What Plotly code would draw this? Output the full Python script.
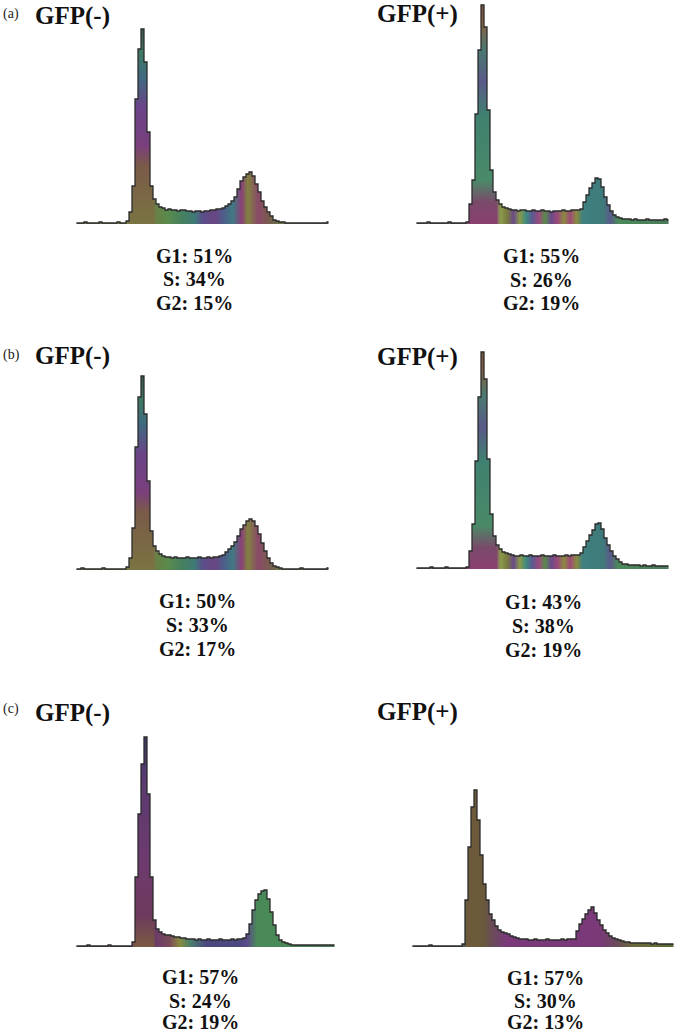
import plotly.graph_objects as go

W, H = 675, 1033

# ---------------- data ----------------
row_tags = ["(a)", "", "(b)", "", "(c)", ""]
titles = ["GFP(-)", "GFP(+)", "GFP(-)", "GFP(+)", "GFP(-)", "GFP(+)"]
g1_pct = [51, 55, 50, 43, 57, 57]
s_pct = [34, 26, 33, 38, 24, 30]
g2_pct = [15, 19, 17, 19, 19, 13]

a_neg = [1, 1, 1, 2, 1, 1, 1, 1, 2, 1, 1, 1, 1, 1, 2, 1, 1,
         3, 12, 38, 125, 175, 195, 162, 92, 38, 25, 20, 17, 16,
         14, 15, 14, 14, 13, 14, 14,
         13, 13, 12, 13, 13, 12, 13, 13, 14,
         14, 15,
         15, 16, 18, 20, 23, 27, 35, 43, 47, 50, 52, 48, 40, 32, 23, 17, 12, 8, 4, 3, 2,
         2, 1, 1, 1, 1, 1, 1, 1, 1, 1, 1, 1, 1, 1, 1, 2]
a_pos = [1, 1, 1, 1, 2, 1, 1, 1, 1, 1, 1, 2, 1, 1, 1, 1, 1,
         2, 20, 44, 110, 174, 219, 197, 114, 54, 32, 24, 20, 17, 16, 15,
         14, 14, 13, 14, 14, 13, 13, 14, 13, 13, 14, 13, 13, 12, 13, 13, 13, 14, 13, 13, 14, 14,
         14, 15, 22, 29, 36, 41, 46, 45, 37, 27, 19, 13, 9, 7, 6,
         5, 5, 5, 4, 5, 4, 4, 4, 5, 4, 4, 4, 4, 4, 5, 4]
b_neg = [1, 1, 2, 1, 1, 1, 1, 1, 1, 2, 1, 1, 1, 1, 1, 1, 1,
         3, 12, 42, 123, 173, 194, 156, 89, 39, 24, 19, 16, 14,
         13, 13, 12, 13, 12, 12, 12, 13, 12, 12, 12, 13, 12, 12, 13, 12, 13, 13,
         14, 15, 18, 21, 24, 28, 34, 41, 45, 49, 51, 49, 44, 36, 27, 19, 12, 7, 4, 3, 2,
         1, 1, 1, 1, 1, 1, 2, 1, 1, 1, 1, 1, 1, 1, 1, 2]
b_pos = [1, 1, 1, 1, 1, 2, 1, 1, 1, 1, 2, 1, 1, 1, 1, 1, 1,
         2, 18, 45, 108, 172, 217, 190, 110, 55, 33, 24, 20, 17, 16, 15,
         14, 13, 13, 14, 13, 13, 14, 13, 13, 13, 14, 13, 13, 13, 14, 13, 13, 13, 14, 13, 14, 14,
         14, 16, 22, 28, 34, 39, 45, 46, 40, 31, 24, 18, 13, 10, 7,
         5, 5, 4, 4, 4, 4, 3, 4, 3, 3, 4, 3, 3, 3, 3, 3]
c_neg = [1, 1, 1, 1, 2, 1, 1, 1, 1, 1, 1, 2, 1, 1, 1, 1, 1, 1, 1,
         5, 70, 133, 183, 210, 153, 70, 27, 18, 15, 13, 12, 12, 11, 10, 10, 9, 9,
         8, 8, 8, 7, 8, 7, 7, 8, 7, 7, 7, 8, 7, 7, 7, 8, 7, 8, 8,
         9, 13, 23, 37, 47, 53, 56, 57, 48, 35, 22, 12, 7, 5, 4, 3,
         2, 2, 2, 2, 2, 2, 2, 2, 2, 2, 2, 2, 2, 2, 2]
c_pos = [1, 1, 1, 1, 1, 1, 2, 1, 1, 1, 1, 1, 1, 1, 1, 1, 1,
         3, 47, 100, 140, 157, 127, 92, 63, 47, 33, 27, 21, 17, 15, 14, 13, 11, 10, 9,
         8, 8, 8, 7, 7, 8, 7, 7, 7, 8, 7, 7, 7, 7, 8, 7, 8, 8,
         8, 16, 23, 28, 33, 37, 40, 34, 27, 22, 17, 14, 11, 9, 8, 7, 6,
         5, 5, 4, 4, 4, 4, 4, 4, 4, 3, 4, 3, 3, 3, 3, 3, 3]

histograms = [a_neg, a_pos, b_neg, b_pos, c_neg, c_pos]

# ---------------- layout geometry (pixels) ----------------
geom = [
    dict(x0=75, x1=330, base=224, tx=33, ty=16, tagy=14, sx=195, sy=[256, 279, 303]),
    dict(x0=415, x1=670, base=224, tx=375, ty=14, tagy=0, sx=541, sy=[256, 280, 303]),
    dict(x0=75, x1=330, base=570, tx=33, ty=356, tagy=355, sx=197, sy=[601, 625, 649]),
    dict(x0=415, x1=670, base=569, tx=375, ty=357, tagy=0, sx=543, sy=[602, 626, 650]),
    dict(x0=75, x1=336, base=947, tx=33, ty=713, tagy=709, sx=200, sy=[977, 1001, 1022]),
    dict(x0=411, x1=675, base=947, tx=375, ty=712, tagy=0, sx=545, sy=[978, 1001, 1022]),
]
YSPAN = 222

# ---------------- colour styles ----------------
neg_ab_h = [[0, '#66704c'], [0.2, '#728244'], [0.24, '#6f8a48'], [0.30, '#6e7c45'],
            [0.36, '#5a8a4c'], [0.42, '#458060'], [0.47, '#3f7a78'], [0.50, '#5a4f8a'],
            [0.55, '#6a4582'], [0.58, '#4f5a8a'], [0.62, '#3f7a82'], [0.655, '#8a4078'],
            [0.68, '#80823f'], [0.72, '#8a4a68'], [0.76, '#7a5a50'], [0.80, '#6a7048'],
            [1, '#5a6a50']]
neg_ab_v = [[0, '#7a7442'], [0.3, '#7a5a48'], [0.4, '#7a3f7c'], [0.6, '#6a4488'],
            [0.75, '#3f6a80'], [0.88, '#3f7a62'], [1, '#3a5a50']]
pos_ab_h = [[0, '#5a6a5a'], [0.2, '#6a5a5a'], [0.22, '#8a3f70'], [0.26, '#4a8a6a'],
            [0.31, '#8a4a7a'], [0.335, '#8a9a4a'], [0.36, '#7a7a3f'], [0.385, '#6a4a8a'],
            [0.41, '#8a9a4a'], [0.435, '#3f8a80'], [0.46, '#5a5a90'], [0.485, '#9a4a80'],
            [0.51, '#5a8a4a'], [0.535, '#6a4a8a'], [0.56, '#9a4a78'], [0.585, '#8a8a3f'],
            [0.61, '#a04a78'], [0.635, '#8a8a40'], [0.66, '#3f8080'], [0.74, '#3f7a7a'],
            [0.77, '#5a5a8a'], [0.80, '#4a8a5a'], [1, '#4a7a5a']]
pos_ab_v = [[0, '#8a3f70'], [0.1, '#7a4a6a'], [0.2, '#4a8a68'], [0.5, '#3f8070'],
            [0.65, '#5a5a88'], [0.8, '#4a7a70'], [0.92, '#8a6040'], [1, '#7a5040']]
neg_c_h = [[0, '#5a4a6a'], [0.2, '#6a4a5a'], [0.3, '#6a3a6a'], [0.36, '#7a4a5a'],
           [0.40, '#8a8a40'], [0.44, '#4a806a'], [0.50, '#4a4a80'], [0.63, '#4a4a80'],
           [0.66, '#5a4a8a'], [0.70, '#4a8a58'], [0.77, '#4a8a58'], [1, '#4a7a5a']]
neg_c_v = [[0, '#7a5a40'], [0.15, '#6e3a5e'], [0.4, '#6e3a6e'], [0.8, '#5a3a70'],
           [1, '#3a3a6a']]
pos_c_h = [[0, '#5a5a4a'], [0.19, '#3f5a5a'], [0.21, '#6e5a3a'], [0.27, '#6a5a3a'],
           [0.31, '#6a4a5a'], [0.36, '#7a3a7a'], [0.62, '#7a3a7a'], [0.72, '#7a3a78'],
           [0.78, '#6a4a5a'], [0.85, '#6a6a3a'], [1, '#5a6a3a']]

h_scales = [neg_ab_h, pos_ab_h, neg_ab_h, pos_ab_h, neg_c_h, pos_c_h]
v_scales = [neg_ab_v, pos_ab_v, neg_ab_v, pos_ab_v, neg_c_v, None]
peak_span = [(17, 27), (17, 28), (17, 27), (17, 28), (19, 27), None]

LINE = '#2b2b2b'
SERIF = 'Liberation Serif, Times New Roman, serif'

fig = go.Figure()
layout_axes = {}
annotations = []

for i, counts in enumerate(histograms):
    g = geom[i]
    sfx = '' if i == 0 else str(i + 1)
    xa, ya = 'x' + sfx, 'y' + sfx
    n = len(counts)
    xs = list(range(n))

    fig.add_trace(go.Scatter(
        x=xs, y=counts, xaxis=xa, yaxis=ya, mode='lines',
        line=dict(width=0, shape='hvh'), fill='tozeroy',
        fillgradient=dict(type='horizontal', colorscale=h_scales[i], start=0, stop=n - 1),
        hoverinfo='skip', showlegend=False))

    if peak_span[i] is not None:
        a, b = peak_span[i]
        pk = counts[a:b]
        fig.add_trace(go.Scatter(
            x=xs[a:b], y=pk, xaxis=xa, yaxis=ya, mode='lines',
            line=dict(width=0, shape='hvh'), fill='tozeroy',
            fillgradient=dict(type='vertical', colorscale=v_scales[i], start=0, stop=max(pk)),
            hoverinfo='skip', showlegend=False))

    fig.add_trace(go.Scatter(
        x=xs, y=counts, xaxis=xa, yaxis=ya, mode='lines',
        line=dict(width=1.3, color=LINE, shape='hvh'),
        hoverinfo='skip', showlegend=False))

    layout_axes['xaxis' + sfx] = dict(domain=[g['x0'] / W, g['x1'] / W], range=[-0.5, n - 0.5],
                                      visible=False, anchor=ya, fixedrange=True)
    layout_axes['yaxis' + sfx] = dict(domain=[1 - g['base'] / H, 1 - (g['base'] - YSPAN) / H],
                                      range=[0, YSPAN], visible=False, anchor=xa, fixedrange=True)

    # titles
    annotations.append(dict(text=titles[i], x=g['tx'] / W, y=1 - g['ty'] / H, xref='paper', yref='paper',
                            xanchor='left', yanchor='middle', showarrow=False,
                            font=dict(family=SERIF, size=25, color='#111111', weight='bold')))
    if row_tags[i]:
        annotations.append(dict(text=row_tags[i], x=0.5 / W, y=1 - g['tagy'] / H, xref='paper', yref='paper',
                                xanchor='left', yanchor='middle', showarrow=False,
                                font=dict(family=SERIF, size=14, color='#222222')))
    # stats
    lines = [f"G1: {g1_pct[i]}%", f"S: {s_pct[i]}%", f"G2: {g2_pct[i]}%"]
    for txt, yy in zip(lines, g['sy']):
        annotations.append(dict(text=txt, x=g['sx'] / W, y=1 - yy / H, xref='paper', yref='paper',
                                xanchor='center', yanchor='middle', showarrow=False,
                                font=dict(family=SERIF, size=20, color='#111111', weight='bold')))

fig.update_layout(
    width=W, height=H, margin=dict(l=0, r=0, t=0, b=0),
    paper_bgcolor='white', plot_bgcolor='white',
    annotations=annotations, showlegend=False, **layout_axes)

fig.write_html("out.html", config={'displayModeBar': False, 'staticPlot': True},
               post_script="document.body.style.margin='0px';")
